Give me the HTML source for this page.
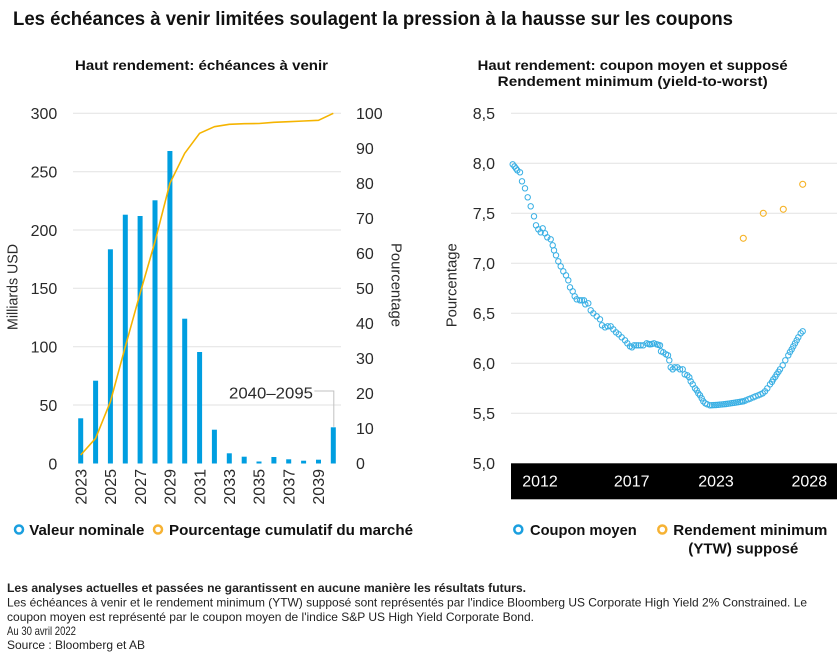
<!DOCTYPE html>
<html><head><meta charset="utf-8">
<style>
html,body{margin:0;padding:0;background:#fff;}
svg{display:block;font-family:"Liberation Sans",Arial,sans-serif;}
.tk{font-size:16px;fill:#2a2a2a;}
.b{font-weight:bold;fill:#111;}
.ft{font-size:12px;fill:#222;}
</style></head><body>
<svg width="840" height="659" viewBox="0 0 840 659" xmlns="http://www.w3.org/2000/svg">
<defs>
<marker id="ring" markerWidth="8" markerHeight="8" refX="4" refY="4" markerUnits="userSpaceOnUse">
<circle cx="4" cy="4" r="2.7" fill="none" stroke="#38afe4" stroke-width="1"/>
</marker>
</defs>
<!-- Title -->
<text x="13" y="25" class="b" font-size="19" textLength="720" lengthAdjust="spacingAndGlyphs">Les échéances à venir limitées soulagent la pression à la hausse sur les coupons</text>
<text x="75" y="70" class="b" font-size="14" textLength="253" lengthAdjust="spacingAndGlyphs">Haut rendement: échéances à venir</text>
<text x="477.7" y="70" class="b" font-size="14" textLength="310" lengthAdjust="spacingAndGlyphs">Haut rendement: coupon moyen et supposé</text>
<text x="497.7" y="86" class="b" font-size="14" textLength="270" lengthAdjust="spacingAndGlyphs">Rendement minimum (yield-to-worst)</text>

<!-- LEFT CHART -->
<g stroke="#e2e2e2" stroke-width="1">
<line x1="73" y1="113.3" x2="341" y2="113.3"/>
<line x1="73" y1="171.7" x2="341" y2="171.7"/>
<line x1="73" y1="230" x2="341" y2="230"/>
<line x1="73" y1="288.3" x2="341" y2="288.3"/>
<line x1="73" y1="346.7" x2="341" y2="346.7"/>
<line x1="73" y1="405" x2="341" y2="405"/>
</g>
<g class="tk" text-anchor="end">
<text x="57.3" y="119.1">300</text>
<text x="57.3" y="177.5">250</text>
<text x="57.3" y="235.8">200</text>
<text x="57.3" y="294.1">150</text>
<text x="57.3" y="352.5">100</text>
<text x="57.3" y="410.8">50</text>
<text x="57.3" y="469.3">0</text>
</g>
<g class="tk">
<text x="356" y="119.1">100</text>
<text x="356" y="154.1">90</text>
<text x="356" y="189.1">80</text>
<text x="356" y="224.1">70</text>
<text x="356" y="259.1">60</text>
<text x="356" y="294.1">50</text>
<text x="356" y="329.1">40</text>
<text x="356" y="364.1">30</text>
<text x="356" y="399.1">20</text>
<text x="356" y="434.1">10</text>
<text x="356" y="469.1">0</text>
</g>
<text transform="translate(17.3,287) rotate(-90)" text-anchor="middle" font-size="14.5" fill="#2a2a2a" textLength="86" lengthAdjust="spacingAndGlyphs">Milliards USD</text>
<text transform="translate(391.5,285) rotate(90)" text-anchor="middle" font-size="14.5" fill="#2a2a2a" textLength="84" lengthAdjust="spacingAndGlyphs">Pourcentage</text>

<g fill="#009ee0">
<rect x="78.2" y="418.3" width="5" height="45.2"/>
<rect x="93.1" y="380.7" width="5" height="82.8"/>
<rect x="107.9" y="249.3" width="5" height="214.2"/>
<rect x="122.8" y="214.7" width="5" height="248.8"/>
<rect x="137.6" y="216" width="5" height="247.5"/>
<rect x="152.5" y="200.3" width="5" height="263.2"/>
<rect x="167.4" y="151" width="5" height="312.5"/>
<rect x="182.2" y="318.7" width="5" height="144.8"/>
<rect x="197.1" y="352" width="5" height="111.5"/>
<rect x="211.9" y="429.7" width="5" height="33.8"/>
<rect x="226.8" y="453.3" width="5" height="10.2"/>
<rect x="241.7" y="456.7" width="5" height="6.8"/>
<rect x="256.5" y="461.5" width="5" height="2"/>
<rect x="271.4" y="457" width="5" height="6.5"/>
<rect x="286.2" y="459.3" width="5" height="4.2"/>
<rect x="301.1" y="460.7" width="5" height="2.8"/>
<rect x="316" y="459.7" width="5" height="3.8"/>
<rect x="330.8" y="427.3" width="5" height="36.2"/>
</g>
<polyline fill="none" stroke="#f5b400" stroke-width="1.6" stroke-linejoin="round" points="80.7,455 95.6,438.3 110.4,401.7 125.3,346.7 140.1,293.3 155,241.7 169.9,183.3 184.7,153.3 199.6,133.3 214.4,126.7 229.3,124.3 244.2,123.7 259,123.5 273.9,122.3 288.7,121.7 303.6,121 318.5,120.3 333.3,113.3"/>
<polyline fill="none" stroke="#c2c2c2" stroke-width="1" points="314.3,391 333.8,391 333.8,426.7"/>
<text x="229" y="398.3" class="tk" font-size="15" textLength="84" lengthAdjust="spacingAndGlyphs">2040–2095</text>
<g class="tk" text-anchor="end">
<text transform="translate(86.4,469) rotate(-90)">2023</text>
<text transform="translate(116.1,469) rotate(-90)">2025</text>
<text transform="translate(145.8,469) rotate(-90)">2027</text>
<text transform="translate(175.6,469) rotate(-90)">2029</text>
<text transform="translate(205.3,469) rotate(-90)">2031</text>
<text transform="translate(235,469) rotate(-90)">2033</text>
<text transform="translate(264.7,469) rotate(-90)">2035</text>
<text transform="translate(294.4,469) rotate(-90)">2037</text>
<text transform="translate(324.2,469) rotate(-90)">2039</text>
</g>

<!-- Left legend -->
<circle cx="19" cy="529.5" r="4" fill="none" stroke="#1a9fdf" stroke-width="2.5"/>
<text x="29.3" y="535" class="b" font-size="15" textLength="115" lengthAdjust="spacingAndGlyphs">Valeur nominale</text>
<circle cx="158" cy="529.5" r="4" fill="none" stroke="#f6b233" stroke-width="2.5"/>
<text x="169" y="535" class="b" font-size="15" textLength="244" lengthAdjust="spacingAndGlyphs">Pourcentage cumulatif du marché</text>

<!-- RIGHT CHART -->
<g stroke="#e2e2e2" stroke-width="1">
<line x1="511" y1="113.3" x2="837" y2="113.3"/>
<line x1="511" y1="163.3" x2="837" y2="163.3"/>
<line x1="511" y1="213.3" x2="837" y2="213.3"/>
<line x1="511" y1="263.3" x2="837" y2="263.3"/>
<line x1="511" y1="313.3" x2="837" y2="313.3"/>
<line x1="511" y1="363.3" x2="837" y2="363.3"/>
<line x1="511" y1="413.3" x2="837" y2="413.3"/>
</g>
<g class="tk" text-anchor="end">
<text x="495" y="119.1">8,5</text>
<text x="495" y="169.1">8,0</text>
<text x="495" y="219.1">7,5</text>
<text x="495" y="269.1">7,0</text>
<text x="495" y="319.1">6,5</text>
<text x="495" y="369.1">6,0</text>
<text x="495" y="419.1">5,5</text>
<text x="495" y="469.1">5,0</text>
</g>
<text transform="translate(456.5,285.3) rotate(-90)" text-anchor="middle" font-size="14.5" fill="#2a2a2a" textLength="84" lengthAdjust="spacingAndGlyphs">Pourcentage</text>
<rect x="511" y="463.3" width="326" height="36" fill="#000"/>
<g font-size="16" fill="#fff" text-anchor="middle">
<text x="540" y="486.7">2012</text>
<text x="631.7" y="486.7">2017</text>
<text x="716" y="486.7">2023</text>
<text x="809.3" y="486.7">2028</text>
</g>
<polyline fill="none" stroke="none" marker-start="url(#ring)" marker-mid="url(#ring)" marker-end="url(#ring)" points="512.7,164.3 514.5,166.5 516,168.5 517.3,170.3 520,172.3 522,181.3 525,188.3 527.7,197.3 530.7,206.3 534,216.3 536,225.3 538.3,229.3 540.7,232.3 542.7,228.3 545,233.3 547.3,237.3 550.7,239.3 552.7,245.3 554,250.3 556,255.3 558.3,261.3 560.7,266.3 563.3,271.3 566,275.3 568.3,280.3 570,287.3 572.7,291.3 574.7,296.3 576.7,299.3 580,300.3 582,300.3 584,300.3 585.3,304.3 588.3,303.3 590.7,310.3 593.3,313.3 596.7,316.3 600,319.3 602,325.3 605,327.3 607.7,326.3 610.7,326.3 613.3,329.3 616,332.3 618.7,334.3 621.7,337.3 625,340.3 627.3,343.3 630,346.3 632,347.3 634,345.3 636.2,345.3 638.3,345.3 640.7,345.3 643.3,345.3 646.7,343.3 648.5,344 650,344.3 652,344 654,343.3 656.7,344.3 658.3,344.8 660,345.3 661,351.3 663.3,352.3 666,354.3 668,355.3 669.3,360.3 670.7,367.3 672.7,369.3 674.7,367.3 677.3,367.3 680,369.3 682.7,369.3 684.7,374.3 687.3,375.3 689.3,377.3 690.7,381.3 692.7,384.3 695,388.3 696.7,390.3 698.3,393.3 700,395.3 701.7,398.3 703.3,401.3 705.3,403.3 707.3,404.3 710,405.3 712,405.2 714,405.1 716,405 718,404.8 720,404.6 722,404.4 724,404.2 726,404 728,403.7 730,403.4 732,403.1 734,402.8 736,402.5 738,402.2 740,401.8 742,401.5 743.3,401.3 745.5,400.5 748.3,399.3 750.5,398.5 753.3,397.3 755.5,396.3 758.3,395.3 760.5,394.3 762.7,393.3 765,391.3 767.3,388.3 770,384.3 772,381.8 773.3,379.3 775.3,376.8 776.7,374.3 778.5,371.8 780,369.3 782.7,365.3 785.3,360.3 788.3,355.3 790,352 791.7,349.3 793.3,346.3 795,343.3 796.7,340.3 798.3,337.3 800.7,333.3 802.7,331.3"/>
<g fill="none" stroke="#f6b429" stroke-width="1.1">
<circle cx="743.3" cy="238.3" r="3"/>
<circle cx="763.3" cy="213.3" r="3"/>
<circle cx="783.3" cy="209.3" r="3"/>
<circle cx="802.7" cy="184.3" r="3"/>
</g>

<!-- Right legend -->
<circle cx="518.3" cy="529.5" r="4" fill="none" stroke="#1a9fdf" stroke-width="2.5"/>
<text x="530" y="535" class="b" font-size="15" textLength="106.7" lengthAdjust="spacingAndGlyphs">Coupon moyen</text>
<circle cx="662.3" cy="529.5" r="4" fill="none" stroke="#f6b233" stroke-width="2.5"/>
<text x="673.3" y="535" class="b" font-size="15" textLength="154" lengthAdjust="spacingAndGlyphs">Rendement minimum</text>
<text x="688.3" y="553.3" class="b" font-size="15" textLength="110" lengthAdjust="spacingAndGlyphs">(YTW) supposé</text>

<!-- Footer -->
<text x="7" y="592" class="ft" font-weight="bold" fill="#111" textLength="519" lengthAdjust="spacingAndGlyphs">Les analyses actuelles et passées ne garantissent en aucune manière les résultats futurs.</text>
<text x="7" y="606.5" class="ft" textLength="800" lengthAdjust="spacingAndGlyphs">Les échéances à venir et le rendement minimum (YTW) supposé sont représentés par l'indice Bloomberg US Corporate High Yield 2% Constrained. Le</text>
<text x="7" y="620.8" class="ft" textLength="527" lengthAdjust="spacingAndGlyphs">coupon moyen est représenté par le coupon moyen de l'indice S&amp;P US High Yield Corporate Bond.</text>
<text x="7" y="635" class="ft" textLength="69" lengthAdjust="spacingAndGlyphs">Au 30 avril 2022</text>
<text x="7" y="649" class="ft" textLength="138" lengthAdjust="spacingAndGlyphs">Source : Bloomberg et AB</text>
</svg>
</body></html>
